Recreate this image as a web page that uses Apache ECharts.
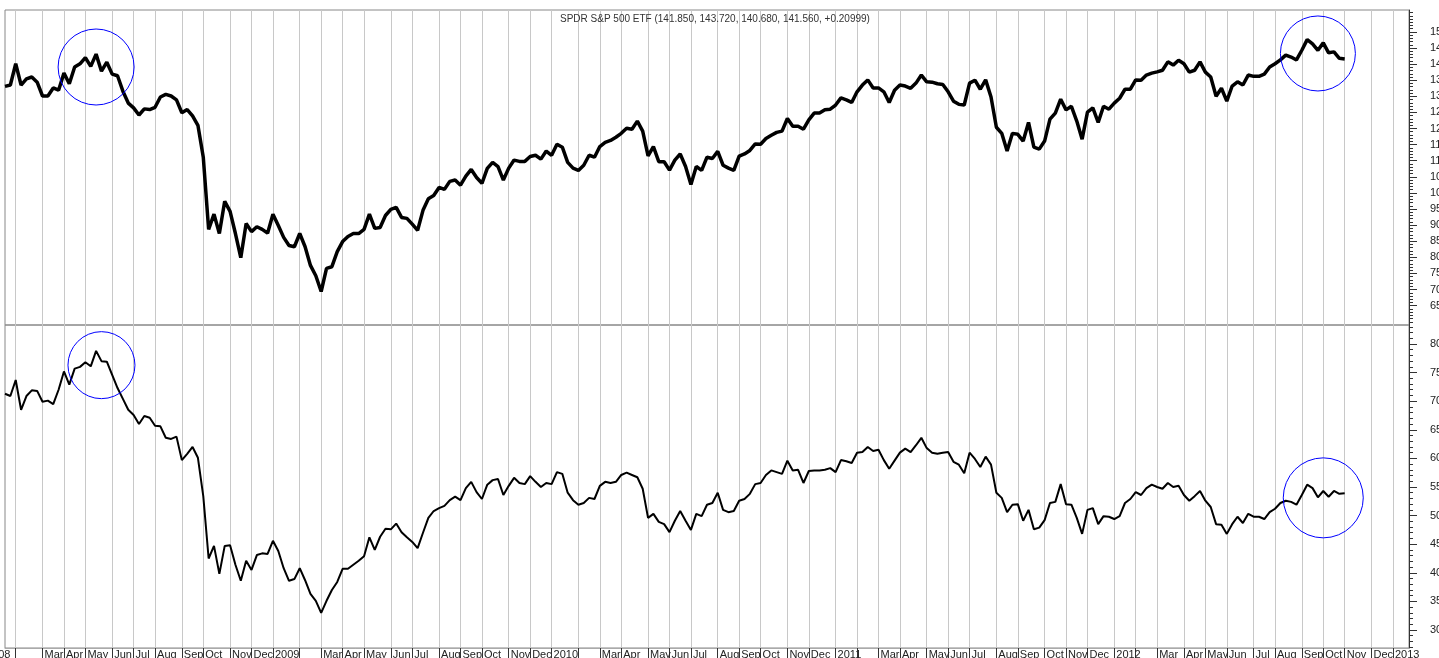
<!DOCTYPE html>
<html>
<head>
<meta charset="utf-8">
<script src="https://cdn.jsdelivr.net/npm/echarts@6/dist/echarts.min.js"></script>
<style>
html,body{margin:0;padding:0;background:#fff;overflow:hidden;}
#chart{width:1439px;height:658px;}
</style>
</head>
<body>
<div id="chart"></div>
<script>
// ---- data (weekly closes) ----
const START_WEEK = '2008-01-18';   // first weekly category (Fridays)
const WEEK_COUNT = 263;            // categories on the axis (Jan 2008 .. Jan 2013)
const TITLE = 'SPDR S&P 500 ETF (141.850, 143.720, 140.680, 141.560, +0.20999)';

const spy = [
133.1,133.5,140.1,133.5,135.4,136.0,134.4,130.1,130.1,132.6,
131.9,137.2,133.9,139.1,140.1,142.0,139.3,143.1,137.8,140.6,
136.9,136.4,131.6,127.9,126.4,124.2,126.1,125.9,126.6,129.8,
130.6,130.1,128.9,124.9,125.9,123.9,121.0,111.1,88.7,93.4,
87.4,97.4,94.3,87.4,79.9,90.5,88.0,89.5,88.7,87.5,
93.4,89.9,86.2,83.7,83.3,87.4,83.3,77.5,74.3,69.4,
76.6,77.1,81.8,84.9,86.5,87.4,87.4,88.7,93.4,89.0,
89.3,93.0,94.9,95.5,92.4,92.1,90.3,88.4,94.6,98.2,
99.2,101.7,101.1,103.6,104.0,102.4,105.2,107.3,104.8,103.0,
107.6,109.5,108.2,104.0,107.7,110.2,109.8,109.8,111.3,111.7,
110.5,113.0,111.7,115.1,114.2,109.5,107.7,107.0,108.6,111.7,
111.1,114.4,115.7,116.3,117.3,118.5,120.1,119.8,122.3,119.2,
111.5,114.4,109.7,109.7,107.1,110.2,112.1,108.2,102.6,108.2,
107.0,111.1,110.7,112.9,108.6,107.7,107.0,111.4,112.1,113.2,
115.2,115.1,116.9,117.9,118.8,119.2,123.1,120.7,120.7,119.8,
122.7,124.8,124.8,125.8,126.0,127.3,129.5,128.9,128.1,131.4,
133.5,135.1,132.6,132.6,131.4,128.1,131.9,133.5,133.2,132.5,
134.1,136.6,134.5,134.4,133.9,133.7,131.4,128.5,127.5,127.3,
134.1,135.0,132.2,135.1,129.8,120.4,118.5,113.0,118.5,118.2,
116.1,121.9,114.2,113.6,116.1,122.9,124.8,129.1,125.8,126.9,
122.3,116.7,125.1,126.4,121.9,126.9,126.0,127.9,129.4,132.2,
132.2,135.1,135.0,136.6,137.2,137.6,138.1,140.7,139.7,141.2,
140.1,137.5,138.1,140.7,137.5,136.0,130.0,132.5,128.5,133.2,
134.5,133.5,136.6,136.2,136.2,136.9,139.1,140.1,141.3,142.8,
142.2,141.3,144.3,147.6,146.3,144.3,146.6,143.5,143.8,141.8,
141.6
];

const lower = [
71.3,70.9,73.7,68.5,70.9,71.9,71.8,69.9,70.1,69.5,
72.0,75.2,72.9,75.7,76.0,76.8,76.1,78.8,77.0,76.9,
74.6,72.3,70.4,68.5,67.6,66.0,67.4,67.1,65.7,65.6,
63.6,63.4,63.8,59.7,60.8,62.0,60.1,53.4,42.5,44.7,
39.8,44.7,44.8,41.4,38.6,42.1,40.5,43.1,43.4,43.3,
45.6,43.8,40.8,38.6,38.9,40.8,38.7,36.3,35.1,33.0,
35.1,37.0,38.4,40.7,40.7,41.4,42.1,42.9,46.2,44.0,
46.3,47.7,47.6,48.6,47.1,46.2,45.4,44.3,47.0,49.6,
50.8,51.3,51.7,52.7,53.3,52.7,54.8,55.9,54.1,52.9,
55.4,56.2,56.4,53.6,55.2,56.6,55.7,55.5,56.9,55.9,
55.0,55.7,55.5,57.6,57.3,54.0,52.7,51.9,52.2,53.1,
52.9,55.2,55.9,55.7,55.9,57.1,57.5,57.1,56.7,54.7,
49.6,50.3,48.9,48.5,47.1,49.1,50.8,49.1,47.5,50.3,
49.9,51.9,52.2,54.0,51.0,50.6,50.8,52.6,52.9,53.8,
55.5,55.7,57.1,57.9,57.6,57.3,59.6,57.9,58.0,55.7,
57.8,57.9,57.9,58.0,58.3,57.6,59.7,59.5,59.2,61.0,
61.1,62.0,61.3,61.5,59.7,58.2,59.6,61.0,61.7,61.1,
62.3,63.6,61.8,61.0,60.8,61.0,61.1,59.4,58.9,57.4,
61.0,59.9,58.5,60.3,58.9,54.0,53.1,50.6,51.9,52.0,
49.1,51.0,47.6,47.9,49.2,52.2,52.4,55.5,52.0,51.9,
49.6,46.8,51.0,51.3,48.5,49.9,49.8,49.4,49.9,52.2,
52.9,54.1,53.6,54.8,55.4,55.0,54.7,55.7,55.0,55.2,
53.6,52.6,53.4,54.3,52.6,51.5,48.5,48.4,46.8,48.5,
49.8,48.7,50.3,49.8,49.8,49.4,50.6,51.2,52.2,52.6,
52.4,51.9,53.6,55.4,54.8,53.2,54.3,53.3,54.3,53.8,
53.9
];

const topTicks = [65,70,75,80,85,90,95,100,105,110,115,120,125,130,135,140,145,150];
const lowerTicks = [30,35,40,45,50,55,60,65,70,75,80];
const monthNames = ['Jan','Feb','Mar','Apr','May','Jun','Jul','Aug','Sep','Oct','Nov','Dec'];

// blue circle annotations: [panel, week index, value, diameter]
const circles = [
  ['top', 17, 139.1, 76],
  ['top', 245, 143.3, 75],
  ['lower', 18, 76.3, 67],
  ['lower', 246, 53.1, 80]
];

// ---- build categories ----
const cats = [];
(function(){
  const p = START_WEEK.split('-').map(Number);
  const t0 = Date.UTC(p[0], p[1]-1, p[2]);
  for (let k = 0; k < WEEK_COUNT; k++) {
    const d = new Date(t0 + k*7*86400000);
    const mm = String(d.getUTCMonth()+1).padStart(2,'0');
    const dd = String(d.getUTCDate()).padStart(2,'0');
    cats.push(d.getUTCFullYear()+'-'+mm+'-'+dd);
  }
})();
function isMonthStart(idx){ return Number(cats[idx].slice(8,10)) <= 7; }
function labelFor(v){
  const m = Number(v.slice(5,7)) - 1;
  if (m === 0) return v.slice(0,4);
  if (m === 1) return '';
  return monthNames[m];
}
function range(a,b){ const r=[]; for(let v=a; v<=b; v++) r.push(v); return r; }

const FONT = 'Liberation Sans, Arial, sans-serif';

function xAxisCfg(grid, bottom){
  return {
    type:'category', gridIndex:grid, data:cats, boundaryGap:false,
    axisLine:{show:bottom, lineStyle:{color:'#aaa', width:1}},
    axisTick:{show:bottom, interval:function(i){return isMonthStart(i);}, length:11, inside:false,
      lineStyle:{color:'#333', width:1}},
    axisLabel:{show:bottom, interval:function(i){return isMonthStart(i) && labelFor(cats[i])!=='';},
      formatter:function(v){return labelFor(v);}, align:'left', margin:1, padding:[0,0,0,2],
      fontSize:11, color:'#222', fontFamily:FONT, hideOverlap:false},
    splitLine:{show:true, interval:function(i){return isMonthStart(i);},
      lineStyle:{color:'#c8c8c8', width:1}}
  };
}

function yAxisPair(grid, min, max, majors, minors){
  return [
    {type:'value', gridIndex:grid, position:'right', min:min, max:max,
     axisLine:{show:true, lineStyle:{color:'#333', width:1}},
     axisTick:{show:true, length:8, customValues:majors, lineStyle:{color:'#333'}},
     axisLabel:{show:true, customValues:majors, margin:21, align:'left', fontSize:11,
       color:'#222', fontFamily:FONT},
     splitLine:{show:false}},
    {type:'value', gridIndex:grid, position:'right', min:min, max:max,
     axisLine:{show:false},
     axisTick:{show:true, length:4, customValues:minors, lineStyle:{color:'#333'}},
     axisLabel:{show:false},
     splitLine:{show:false}}
  ];
}

function marks(panel){
  return circles.filter(c=>c[0]===panel).map(c=>({
    coord:[cats[c[1]], c[2]], symbol:'circle', symbolSize:c[3],
    itemStyle:{color:'rgba(0,0,0,0)', borderColor:'#0000ff', borderWidth:1}
  }));
}

const gridBase = {left:5, width:1404, show:true, borderColor:'#888', borderWidth:1,
  backgroundColor:'transparent', containLabel:false, outerBoundsMode:'none'};

const chart = echarts.init(document.getElementById('chart'), null, {renderer:'canvas'});
chart.setOption({
  animation:false,
  backgroundColor:'#ffffff',
  title:{text:TITLE, left:560, top:14, padding:0,
    textStyle:{fontSize:10, fontWeight:'normal', color:'#333', fontFamily:FONT}},
  grid:[
    Object.assign({}, gridBase, {top:10, height:315}),
    Object.assign({}, gridBase, {top:325, height:323})
  ],
  xAxis:[xAxisCfg(0,false), xAxisCfg(1,true)],
  yAxis: yAxisPair(0, 59.0, 156.8, topTicks, range(60,156))
        .concat(yAxisPair(1, 26.85, 83.32, lowerTicks, range(27,83))),
  graphic:[{type:'text', x:-14, y:649, style:{text:'2008', fontSize:11, fontFamily:FONT, fill:'#222'}}],
  series:[
    {type:'line', name:'SPY', xAxisIndex:0, yAxisIndex:0, data:spy, showSymbol:false, symbol:'none',
     lineStyle:{color:'#000', width:3.5}, silent:true,
     markPoint:{silent:true, label:{show:false}, data:marks('top')}},
    {type:'line', name:'lower', xAxisIndex:1, yAxisIndex:2, data:lower, showSymbol:false, symbol:'none',
     lineStyle:{color:'#000', width:2}, silent:true,
     markPoint:{silent:true, label:{show:false}, data:marks('lower')}}
  ]
});
</script>
</body>
</html>
